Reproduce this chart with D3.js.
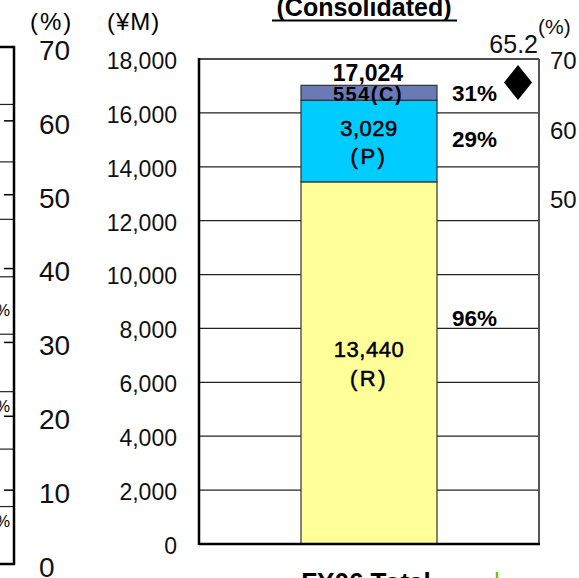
<!DOCTYPE html>
<html>
<head>
<meta charset="utf-8">
<script src="https://cdn.jsdelivr.net/npm/d3@7"></script>
<style>
  html, body { margin: 0; padding: 0; background: #fff; }
  svg { display: block; font-family: Arial, "Liberation Sans", sans-serif; }
</style>
</head>
<body>
<div id="chart"></div>
<script>
// Consolidated sales breakdown, FY06 total (¥M), with segment shares and overall ratio
const categories = ["FY06 Total"];
const segmentKeys = ["R", "P", "C"];
const segmentValues = [13440, 3029, 554];
const segmentLabels = ["13,440", "3,029", "554"];
const shareLabels = ["96%", "29%", "31%"];
const totalValue = 17024;
const totalLabel = "17,024";
const ratioValue = 65.2;
const yenTicks = [0, 2000, 4000, 6000, 8000, 10000, 12000, 14000, 16000, 18000];
const pctTicks = [0, 10, 20, 30, 40, 50, 60, 70];
const rightPctTicks = [50, 60, 70];

const W = 579, H = 578;
const svg = d3.select("#chart").append("svg").attr("width", W).attr("height", H);

const color = d3.scaleOrdinal().domain(segmentKeys).range(["#FFFF99", "#00CCFF", "#6A7AB6"]);

// ---- main panel scales ----
const plot = { left: 199, right: 539, top: 59, bottom: 544 };
const y = d3.scaleLinear().domain([0, 18000]).range([plot.bottom, plot.top]);
const x = d3.scaleBand().domain(categories).range([plot.left, plot.right])
  .paddingInner(0).paddingOuter(0.75);
// percentage scale shared by the left % axis and the ratio marker
const pct = d3.scaleLinear().domain([0, 70]).range([564, 47]);
// right-hand % axis of the main panel
const pctRight = d3.scaleLinear().domain([0, 70]).range([plot.bottom, plot.top]);

// ---- neighbouring panel edge (left) ----
const leftPanel = svg.append("g");
const yLeft = d3.scaleLinear().domain([0, 18000]).range([564, 47]);
leftPanel.selectAll("line.grid").data(yenTicks.slice(1, -1)).join("line")
  .attr("x1", 0).attr("x2", 14)
  .attr("y1", d => yLeft(d)).attr("y2", d => yLeft(d))
  .attr("stroke", "#222").attr("stroke-width", 1.2);
leftPanel.append("line").attr("x1", 0).attr("x2", 15).attr("y1", 47).attr("y2", 47)
  .attr("stroke", "#000").attr("stroke-width", 2.5);
leftPanel.append("line").attr("x1", 0).attr("x2", 15).attr("y1", 564).attr("y2", 564)
  .attr("stroke", "#000").attr("stroke-width", 2.5);
leftPanel.append("line").attr("x1", 14).attr("x2", 14).attr("y1", 46).attr("y2", 565)
  .attr("stroke", "#000").attr("stroke-width", 2.5);
leftPanel.selectAll("line.tick").data(pctTicks.slice(1, -1)).join("line")
  .attr("x1", 4).attr("x2", 14)
  .attr("y1", d => pct(d)).attr("y2", d => pct(d))
  .attr("stroke", "#000").attr("stroke-width", 1.5);
leftPanel.selectAll("text.pc").data([310, 406, 521]).join("text")
  .attr("x", 10).attr("y", d => d).attr("dy", "0.35em")
  .attr("text-anchor", "end").attr("font-size", 16).attr("fill", "#000")
  .text("%");

// ---- left % axis labels ----
svg.append("text").attr("x", 30).attr("y", 22).attr("dy", "0.35em")
  .attr("font-size", 24).attr("letter-spacing", 2).text("(%)");
svg.selectAll("text.pctl").data(pctTicks).join("text")
  .attr("x", 39).attr("y", d => pct(d) + 3).attr("dy", "0.35em")
  .attr("font-size", 28).attr("fill", "#111").text(d => d);

// ---- yen axis ----
svg.append("text").attr("x", 107).attr("y", 22).attr("dy", "0.35em")
  .attr("font-size", 24).attr("letter-spacing", 1).text("(¥M)");
const yAxis = d3.axisLeft(y).tickValues(yenTicks).tickSize(0).tickPadding(0)
  .tickFormat(d3.format(","));
const gY = svg.append("g").attr("transform", `translate(177,2)`).call(yAxis);
gY.select(".domain").remove();
gY.selectAll("text").attr("font-size", 23).attr("fill", "#111")
  .attr("font-family", "Arial, 'Liberation Sans', sans-serif");

// gridlines
svg.append("g").selectAll("line").data(yenTicks.slice(1, -1)).join("line")
  .attr("x1", plot.left).attr("x2", plot.right)
  .attr("y1", d => y(d)).attr("y2", d => y(d))
  .attr("stroke", "#222").attr("stroke-width", 1.3);
// frame
svg.append("line").attr("x1", plot.left).attr("x2", plot.right)
  .attr("y1", y(18000)).attr("y2", y(18000)).attr("stroke", "#111").attr("stroke-width", 1.5);
svg.append("line").attr("x1", plot.right).attr("x2", plot.right)
  .attr("y1", y(18000)).attr("y2", y(0)).attr("stroke", "#555").attr("stroke-width", 2);

// ---- stacked bar ----
let acc = 0;
const stacked = segmentKeys.map((k, i) => {
  const s = { key: k, y0: acc, y1: acc + segmentValues[i], value: segmentValues[i],
              label: segmentLabels[i], share: shareLabels[i] };
  acc += segmentValues[i];
  return s;
});
const bx = x(categories[0]), bw = x.bandwidth(), cx = bx + bw / 2;
svg.append("g").selectAll("rect").data(stacked).join("rect")
  .attr("x", bx).attr("width", bw)
  .attr("y", d => y(d.y1)).attr("height", d => y(d.y0) - y(d.y1))
  .attr("fill", d => color(d.key)).attr("stroke", "#333").attr("stroke-width", 1.2);

// axes lines on top of bar
svg.append("line").attr("x1", plot.left).attr("x2", plot.left)
  .attr("y1", y(18000) - 1).attr("y2", y(0) + 1).attr("stroke", "#000").attr("stroke-width", 2.5);
svg.append("line").attr("x1", plot.left).attr("x2", plot.right + 1)
  .attr("y1", y(0)).attr("y2", y(0)).attr("stroke", "#000").attr("stroke-width", 2.5);

// segment value labels (medium weight via a thin outline)
const mid = d => (y(d.y0) + y(d.y1)) / 2;
const R = stacked[0], P = stacked[1], C = stacked[2];
function inBar(txt, yy, spacing) {
  return svg.append("text").attr("x", cx).attr("y", yy).attr("dy", "0.35em")
    .attr("text-anchor", "middle").attr("font-size", 22)
    .attr("stroke", "#000").attr("stroke-width", 0.5)
    .attr("letter-spacing", spacing).text(txt);
}
inBar(R.label, mid(R) - 14, 0.5);
inBar("(R)", mid(R) + 15, 2.5);
inBar(P.label, mid(P) - 12.5, 0.5);
inBar("(P)", mid(P) + 15, 2.5);
svg.append("text").attr("x", cx - 1).attr("y", mid(C) + 1).attr("dy", "0.35em")
  .attr("text-anchor", "middle").attr("font-size", 20).attr("font-weight", "bold")
  .attr("letter-spacing", 1.5).text(C.label + "(C)");
svg.append("text").attr("x", cx - 1).attr("y", y(totalValue) - 12).attr("dy", "0.35em")
  .attr("text-anchor", "middle").attr("font-size", 23).attr("font-weight", "bold")
  .text(totalLabel);

// share labels beside the bar
const shareOffset = { R: -45, P: -2, C: 0 };
svg.append("g").selectAll("text").data(stacked).join("text")
  .attr("x", bx + bw + 15).attr("y", d => mid(d) + shareOffset[d.key]).attr("dy", "0.35em")
  .attr("font-size", 22.5).attr("font-weight", "bold").text(d => d.share);

// ratio marker
const mx = 518, my = pct(ratioValue);
const dp = d3.path();
dp.moveTo(mx, my - 17.5); dp.lineTo(mx + 14, my); dp.lineTo(mx, my + 17.5); dp.lineTo(mx - 14, my); dp.closePath();
svg.append("path").attr("d", dp.toString()).attr("fill", "#000");
svg.append("text").attr("x", 538).attr("y", 44).attr("dy", "0.35em")
  .attr("text-anchor", "end").attr("font-size", 25).attr("fill", "#111").text(ratioValue);
svg.append("text").attr("x", 538).attr("y", 27).attr("dy", "0.35em")
  .attr("font-size", 21).attr("fill", "#111").text("(%)");

// right % axis labels
svg.selectAll("text.pr").data(rightPctTicks).join("text")
  .attr("x", 550).attr("y", d => pctRight(d) + 2).attr("dy", "0.35em")
  .attr("font-size", 24).attr("fill", "#111").text(d => d);

// title
svg.append("text").attr("x", 364).attr("y", 16)
  .attr("text-anchor", "middle").attr("font-size", 25).attr("font-weight", "bold")
  .text("(Consolidated)");
svg.append("line").attr("x1", 272).attr("x2", 457).attr("y1", 20.5).attr("y2", 20.5)
  .attr("stroke", "#000").attr("stroke-width", 2);

// category label
svg.append("text").attr("x", cx - 3).attr("y", 591)
  .attr("text-anchor", "middle").attr("font-size", 26).attr("font-weight", "bold")
  .text(categories[0]);
svg.append("line").attr("x1", 497).attr("x2", 497).attr("y1", 572).attr("y2", 578)
  .attr("stroke", "#66CC00").attr("stroke-width", 2.5);
</script>
</body>
</html>
